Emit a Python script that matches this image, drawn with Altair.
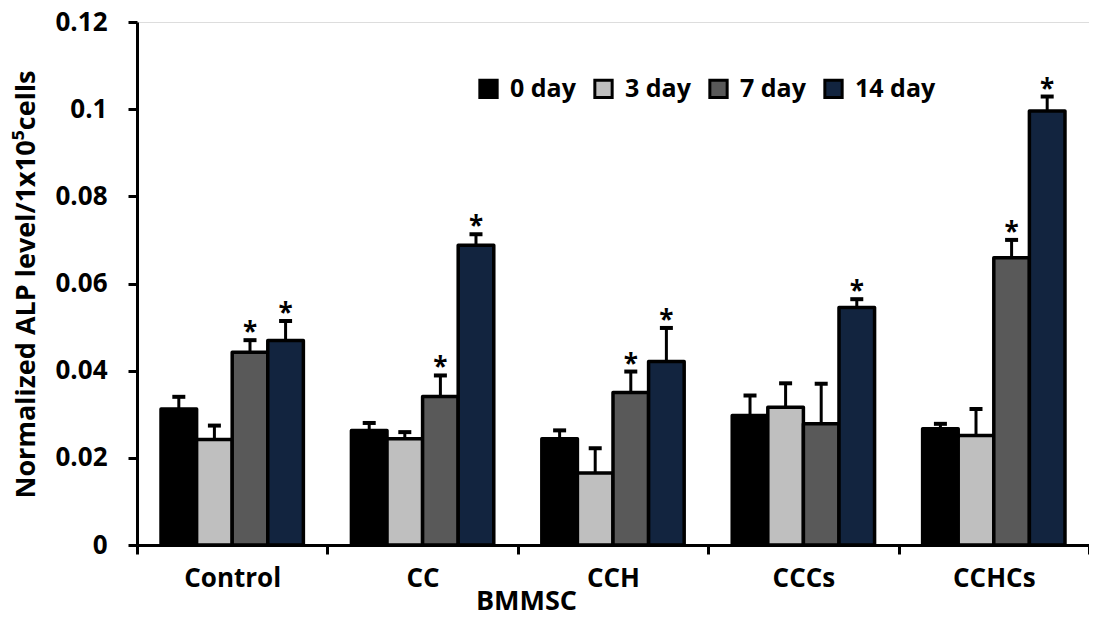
import altair as alt
import pandas as pd

categories = ["Control", "CC", "CCH", "CCCs", "CCHCs"]
days = ["0 day", "3 day", "7 day", "14 day"]
colors = ["#000000", "#BFBFBF", "#595959", "#12243F"]

day0 = [0.0312, 0.0263, 0.0244, 0.0297, 0.0267]
day3 = [0.0242, 0.0244, 0.0165, 0.0316, 0.0251]
day7 = [0.0442, 0.0341, 0.0350, 0.0278, 0.0659]
day14 = [0.0469, 0.0688, 0.0421, 0.0545, 0.0996]

err0 = [0.0028, 0.0017, 0.0019, 0.0046, 0.0011]
err3 = [0.0032, 0.0015, 0.0057, 0.0055, 0.0061]
err7 = [0.0028, 0.0048, 0.0048, 0.0092, 0.0041]
err14 = [0.0045, 0.0025, 0.0077, 0.0019, 0.0033]

sig0 = ["", "", "", "", ""]
sig3 = ["", "", "", "", ""]
sig7 = ["*", "*", "*", "", "*"]
sig14 = ["*", "*", "*", "*", "*"]

rows = []
for d, vals, errs, sigs in zip(days, [day0, day3, day7, day14],
                               [err0, err3, err7, err14],
                               [sig0, sig3, sig7, sig14]):
    for c, v, e, s in zip(categories, vals, errs, sigs):
        rows.append({"group": c, "day": d, "value": v, "upper": v + e, "sig": s})
df = pd.DataFrame(rows)

FONT = "Open Sans"

x = alt.X("group:N", sort=categories,
          scale=alt.Scale(paddingInner=0, paddingOuter=0),
          axis=alt.Axis(title="BMMSC", labelAngle=0, tickBand="extent",
                        domainWidth=3, domainColor="black", tickWidth=3,
                        tickColor="black", tickSize=9, labelPadding=11,
                        labelFontSize=26, labelFont=FONT, labelFontWeight="bold",
                        labelColor="black",
                        titleFontSize=27, titleFont=FONT, titleFontWeight="bold",
                        titleColor="black", titleX=389, titleY=64,
                        titleAlign="center", titleBaseline="alphabetic"))
xo = alt.XOffset("day:N", sort=days,
                 scale=alt.Scale(paddingInner=0, paddingOuter=0.675))
y = alt.Y("value:Q",
          scale=alt.Scale(domain=[0, 0.12], nice=False),
          axis=alt.Axis(title="Normalized ALP level/1x10⁵cells",
                        values=[0, 0.02, 0.04, 0.06, 0.08, 0.1, 0.12],
                        format=".2~f", grid=False,
                        domainWidth=3, domainColor="black", tickWidth=3,
                        tickColor="black", tickSize=9, labelPadding=21,
                        labelFontSize=26, labelFont=FONT, labelFontWeight="bold",
                        labelColor="black",
                        titleFontSize=27, titleFont=FONT, titleFontWeight="bold",
                        titleColor="black", titleX=-111, titleY=262,
                        titleAlign="center", titleBaseline="middle"))

color = alt.Color("day:N", sort=days,
                  scale=alt.Scale(domain=days, range=colors),
                  legend=alt.Legend(title=None, orient="none", direction="horizontal",
                                    legendX=339, legendY=54,
                                    symbolType="square", symbolSize=300,
                                    symbolStrokeColor="black", symbolStrokeWidth=3,
                                    symbolOpacity=1,
                                    labelFont=FONT, labelFontSize=25,
                                    labelFontWeight="bold", labelColor="black",
                                    labelOffset=9, columnPadding=12, padding=0))

base = alt.Chart(df)

bars = base.mark_bar(stroke="black", strokeWidth=3.5, strokeJoin="round",
                     opacity=1).encode(x=x, xOffset=xo, y=y, color=color)

err_line = base.mark_rule(color="black", strokeWidth=3).encode(
    x=x, xOffset=xo, y=alt.Y("value:Q"), y2="upper:Q")

caps = base.mark_tick(color="black", size=13, thickness=4, opacity=1,
                      orient="horizontal").encode(
    x=x, xOffset=xo, y=alt.Y("upper:Q"))

stars = base.mark_text(font=FONT, fontSize=26, fontWeight="bold", color="black",
                       baseline="alphabetic", dy=1).encode(
    x=x, xOffset=xo, y=alt.Y("upper:Q"), text="sig:N")

chart = alt.layer(bars, err_line, caps, stars).properties(
    width=952, height=523,
    autosize=alt.AutoSizeParams(type="none"),
    padding={"left": 129, "top": 14, "right": 0, "bottom": 68},
).configure_view(stroke=None).configure(background="white")

chart.save("out.html", embed_options={"renderer": "svg", "actions": False})
